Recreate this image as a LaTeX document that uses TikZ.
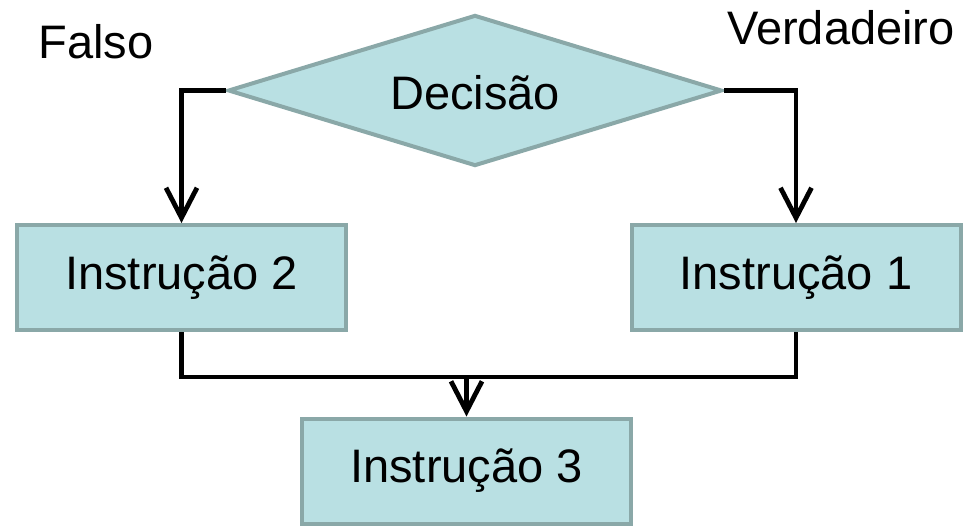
\documentclass[tikz,border=0pt]{standalone}
\usepackage{fontspec}
\setmainfont{Liberation Sans}
\usetikzlibrary{shapes.geometric,arrows.meta}
\definecolor{boxfill}{HTML}{B9E0E3}
\definecolor{boxline}{HTML}{8AA8A8}
\begin{document}
\begin{tikzpicture}[x=1pt,y=-1pt,
  font=\fontsize{47}{56}\selectfont,
  stepbox/.style={draw=boxline, fill=boxfill, line width=4pt, minimum width=329pt, minimum height=105pt, inner sep=0pt},
  decide/.style={diamond, draw=boxline, fill=boxfill, line width=4pt, minimum width=494pt, minimum height=151pt, aspect=3.27, inner sep=0pt},
  flow/.style={line width=4.8pt, draw=black},
  tip/.style={-{Straight Barb[length=30pt, width=31pt, line width=4.8pt]}}]
  \useasboundingbox (0,0) rectangle (972,527);
  % shapes
  \node[decide] (d) at (475,90.5) {};
  \node at (475,93) {Decisão};
  \node[stepbox] (i2) at (181.5,277.5) {Instrução 2};
  \node[stepbox] (i1) at (796,277.5) {Instrução 1};
  \node[stepbox] (i3) at (466.5,471) {Instrução 3};
  % branch labels
  \node (f) at (96,42) {Falso};
  \node (v) at (841,28) {Verdadeiro};
  % connectors
  \draw[flow, tip] (d.west) -| (i2.north);
  \draw[flow, tip] (d.east) -| (i1.north);
  \coordinate (j) at (i3.north |- 0,377);
  \draw[flow] (i2.south) |- (j) -| (i1.south);
  \draw[flow, tip] (j) -- (i3.north);
\end{tikzpicture}
\end{document}
